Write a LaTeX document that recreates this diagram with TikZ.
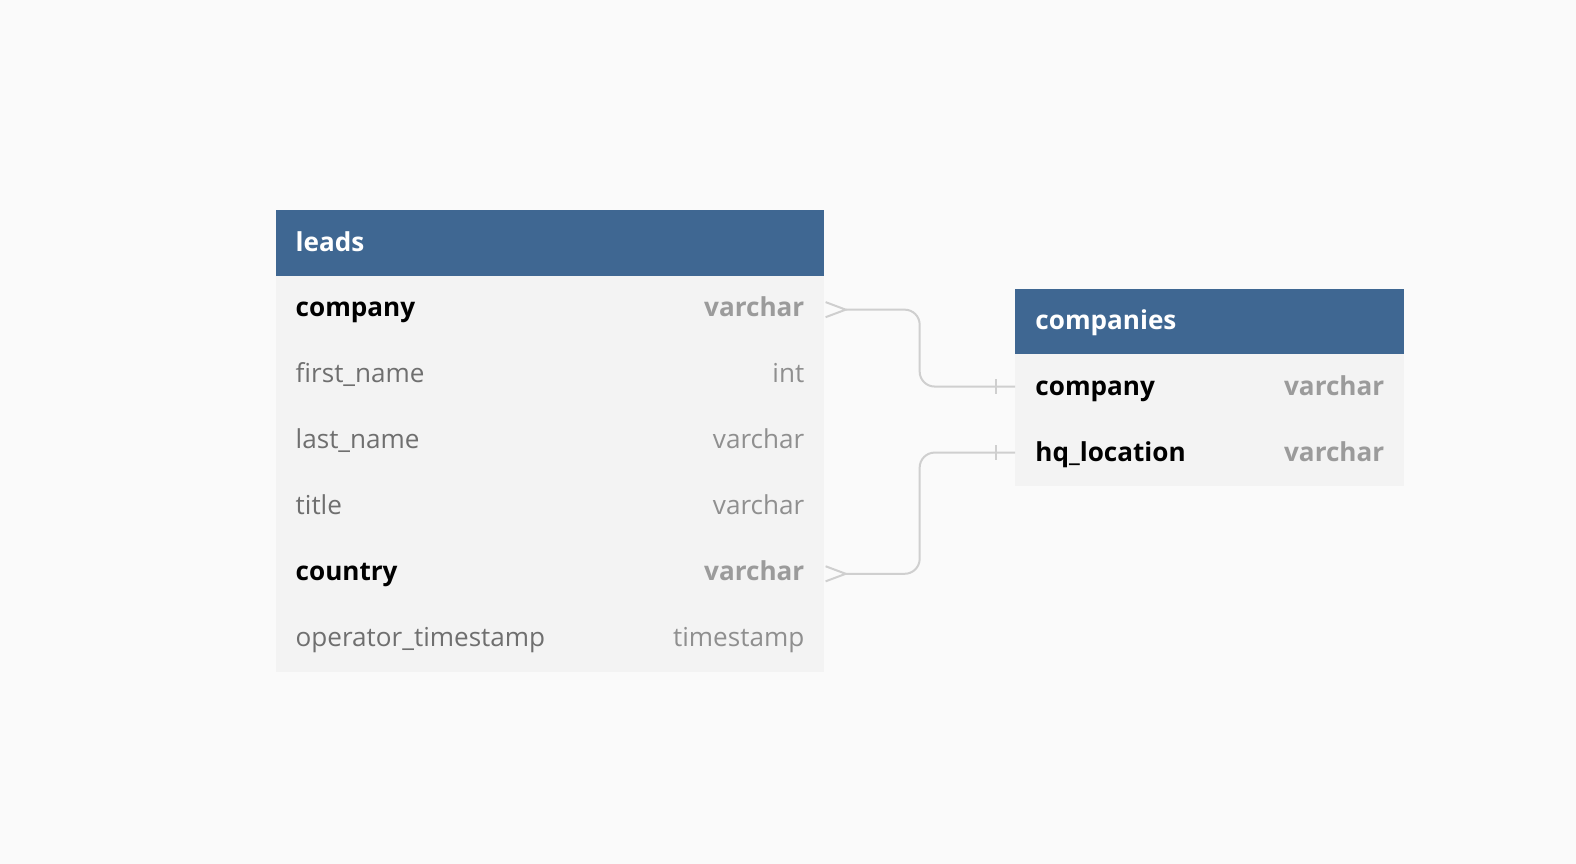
\documentclass[tikz,border=0pt]{standalone}
\usepackage{fontspec}
\setmainfont{Open Sans}
\usetikzlibrary{calc}
\definecolor{bgc}{HTML}{FAFAFA}
\definecolor{hdr}{HTML}{3F6792}
\definecolor{rowc}{HTML}{F3F3F3}
\definecolor{namec}{HTML}{6F6F6F}
\definecolor{typec}{HTML}{8F8F8F}
\definecolor{typeb}{HTML}{9B9B9B}
\definecolor{linec}{HTML}{CFCFCF}
\tikzset{
  hbox/.style={fill=hdr, draw=none, inner sep=0pt, anchor=north west},
  rbox/.style={fill=rowc, draw=none, inner sep=0pt, anchor=north west},
  txt/.style={inner sep=0pt, font=\fontsize{26.1bp}{30bp}\selectfont},
  htxt/.style={txt, text=white, font=\fontsize{26.1bp}{30bp}\selectfont\bfseries, anchor=base west},
  kname/.style={txt, text=black, font=\fontsize{26.1bp}{30bp}\selectfont\bfseries, anchor=base west},
  fname/.style={txt, text=namec, anchor=base west},
  ktype/.style={txt, text=typeb, font=\fontsize{26.1bp}{30bp}\selectfont\bfseries, anchor=base east},
  ftype/.style={txt, text=typec, anchor=base east},
  conn/.style={draw=linec, line width=2bp, rounded corners=15bp},
  endmark/.style={draw=linec, line width=2bp}
}
\begin{document}
\begin{tikzpicture}[x=1.0051bp,y=-1.0051bp]
\fill[bgc] (0,0) rectangle (1568,859.6);
\useasboundingbox (0,0) rectangle (1568,859.6);
% leads table
\node[hbox, minimum width=548.8bp, minimum height=65.3bp] (lh) at (274,209) {};
\node[htxt] (lht) at ($(lh.west)+(20,8.5)$) {leads};
\foreach \i/\n/\t/\k in {1/company/varchar/k, 2/first\_name/int/f, 3/last\_name/varchar/f, 4/title/varchar/f, 5/country/varchar/k, 6/operator\_timestamp/timestamp/f}{
  \node[rbox, minimum width=548.8bp, minimum height=66.1bp] (l\i) at (274,{274+(\i-1)*65.7}) {};
  \node[\k name] (l\i n) at ($(l\i.west)+(20,8)$) {\n};
  \node[\k type] (l\i t) at ($(l\i.east)+(-20,8)$) {\t};
}
% companies table
\node[hbox, minimum width=389bp, minimum height=65.3bp] (ch) at (1010,287) {};
\node[htxt] (cht) at ($(ch.west)+(20,8.5)$) {companies};
\foreach \i/\n/\t in {1/company/varchar, 2/hq\_location/varchar}{
  \node[rbox, minimum width=389bp, minimum height=66.1bp] (c\i) at (1010,{352+(\i-1)*65.7}) {};
  \node[kname] (c\i n) at ($(c\i.west)+(20,8)$) {\n};
  \node[ktype] (c\i t) at ($(c\i.east)+(-20,8)$) {\t};
}
% connectors
\coordinate (mx) at (915,0);
\coordinate (f1) at ($(l1.east)+(21,1)$);
\coordinate (f5) at ($(l5.east)+(21,1)$);
\coordinate (e1) at ($(c1.west)+(0,-0.5)$);
\coordinate (e2) at ($(c2.west)+(0,-0.5)$);
\draw[conn] (f1) -- (f1 -| mx) -- (e1 -| mx) -- (e1);
\draw[conn] (f5) -- (f5 -| mx) -- (e2 -| mx) -- (e2);
% crow's feet
\draw[endmark] ($(l1.east)+(1,-6.5)$) -- (f1) -- ($(l1.east)+(1,8.5)$);
\draw[endmark] ($(l5.east)+(1,-6.5)$) -- (f5) -- ($(l5.east)+(1,8.5)$);
% one bars
\draw[endmark] ($(e1)+(-19,-7.5)$) -- ($(e1)+(-19,7.5)$);
\draw[endmark] ($(e2)+(-19,-7.5)$) -- ($(e2)+(-19,7.5)$);
\end{tikzpicture}
\end{document}
